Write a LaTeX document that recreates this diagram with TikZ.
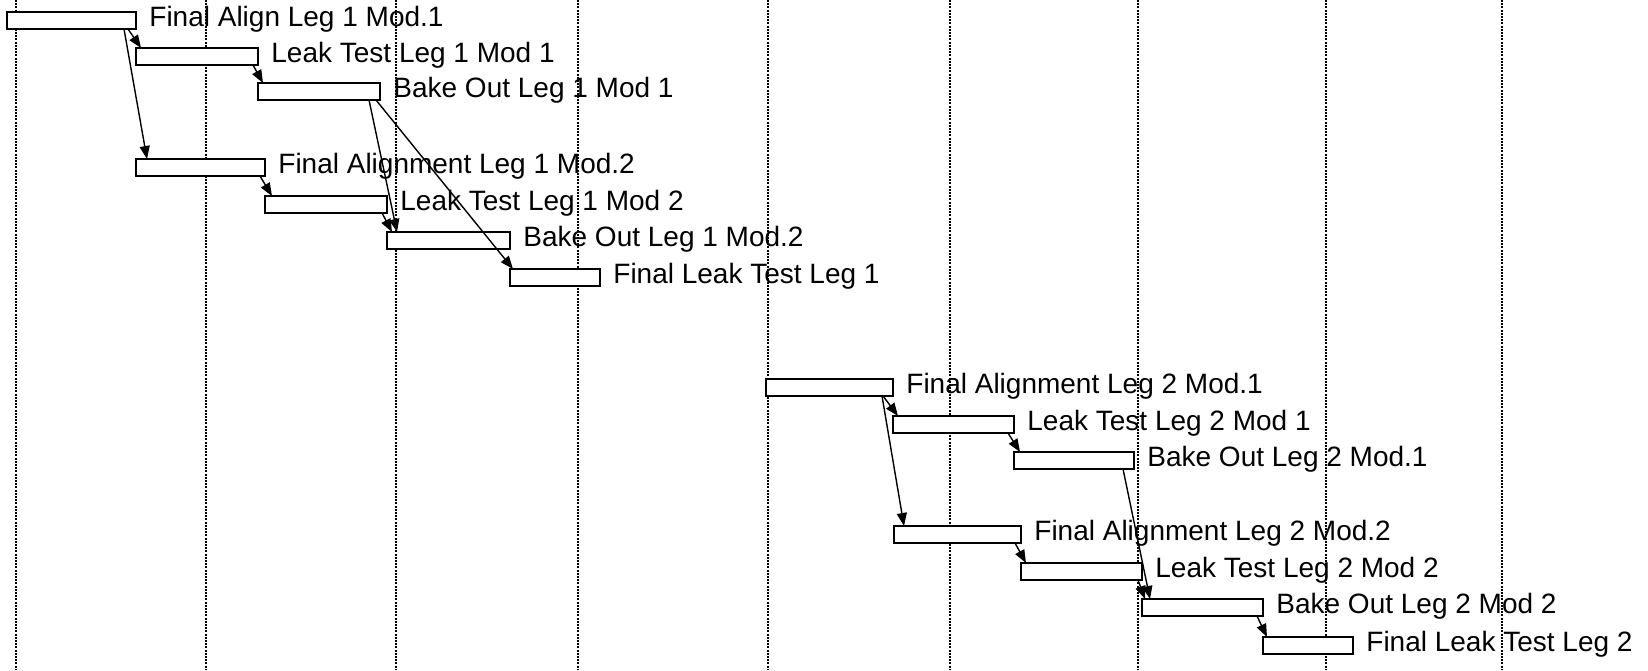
\documentclass[tikz,border=0pt]{standalone}
\usepackage{fontspec}
\setmainfont{Liberation Sans}
\usetikzlibrary{arrows.meta}

\tikzset{
  task/.style={draw, fill=white, line width=1pt, anchor=north west,
    inner sep=0pt, outer sep=0pt, minimum height=8.5pt},
  tasklabel/.style={anchor=base west, inner sep=0pt,
    font=\fontsize{14}{16}\selectfont},
  link/.style={-{Triangle[length=6.5pt,width=5pt]}, line width=0.7pt},
  gridline/.style={line width=0.7pt, dash pattern=on 1pt off 0.6pt}
}

\begin{document}
\begin{tikzpicture}[x=0.5pt, y=-0.5pt]
    \useasboundingbox (0,0) rectangle (1648,670);

    % Grid
    \foreach \x in {16,206,396,578,768,950,1138,1326,1502} {
        \draw[gridline] (\x,0) -- (\x,670);
    }

    % Tasks
    \foreach \name/\xa/\xb/\ya/\txt in {
        fa11/7/136/12/Final Align Leg 1 Mod.1,
        lt11/136/258/48/Leak Test Leg 1 Mod 1,
        bo11/258/380/83/Bake Out Leg 1 Mod 1,
        fa12/136/265/159/Final Alignment Leg 1 Mod.2,
        lt12/265/387/196/Leak Test Leg 1 Mod 2,
        bo12/387/510/232/Bake Out Leg 1 Mod.2,
        flt1/510/600/269/Final Leak Test Leg 1,
        fa21/766/893/379/Final Alignment Leg 2 Mod.1,
        lt21/893/1014/416/Leak Test Leg 2 Mod 1,
        bo21/1014/1134/452/Bake Out Leg 2 Mod.1,
        fa22/894/1021/526/Final Alignment Leg 2 Mod.2,
        lt22/1021/1142/563/Leak Test Leg 2 Mod 2,
        bo22/1142/1263/599/Bake Out Leg 2 Mod 2,
        flt2/1263/1353/637/Final Leak Test Leg 2} {
        \pgfmathsetmacro\w{(\xb-\xa)*0.5}
        \node[task, minimum width=\w pt] (\name) at (\xa,\ya) {};
        \node[tasklabel] (\name-l) at ([xshift=6.5pt,yshift=-3pt]\name.east) {\txt};
    }

    % Links, leg 1
    \draw[link] ([xshift=-4pt]fa11.south east) -- ([xshift=2.5pt]lt11.north west);
    \draw[link] ([xshift=-6pt]fa11.south east) -- ([xshift=5.5pt]fa12.north west);
    \draw[link] ([xshift=-2.5pt]lt11.south east) -- ([xshift=2.5pt]bo11.north west);
    \draw[link] ([xshift=-5.5pt]bo11.south east) -- ([xshift=5pt]bo12.north west);
    \draw[link] ([xshift=-2pt]bo11.south east) -- ([xshift=1.5pt]flt1.north west);
    \draw[link] ([xshift=-2.5pt]fa12.south east) -- ([xshift=3.5pt]lt12.north west);
    \draw[link] ([xshift=-2.5pt]lt12.south east) -- ([xshift=2.5pt]bo12.north west);

    % Links, leg 2
    \draw[link] ([xshift=-5pt]fa21.south east) -- ([xshift=2.5pt]lt21.north west);
    \draw[link] ([xshift=-5.5pt]fa21.south east) -- ([xshift=5pt]fa22.north west);
    \draw[link] ([xshift=-3pt]lt21.south east) -- ([xshift=3pt]bo21.north west);
    \draw[link] ([xshift=-5.5pt]bo21.south east) -- ([xshift=4pt]bo22.north west);
    \draw[link] ([xshift=-3pt]fa22.south east) -- ([xshift=2.5pt]lt22.north west);
    \draw[link] ([xshift=-2pt]lt22.south east) -- ([xshift=1.5pt]bo22.north west);
    \draw[link] ([xshift=-3pt]bo22.south east) -- ([xshift=2pt]flt2.north west);
\end{tikzpicture}
\end{document}
